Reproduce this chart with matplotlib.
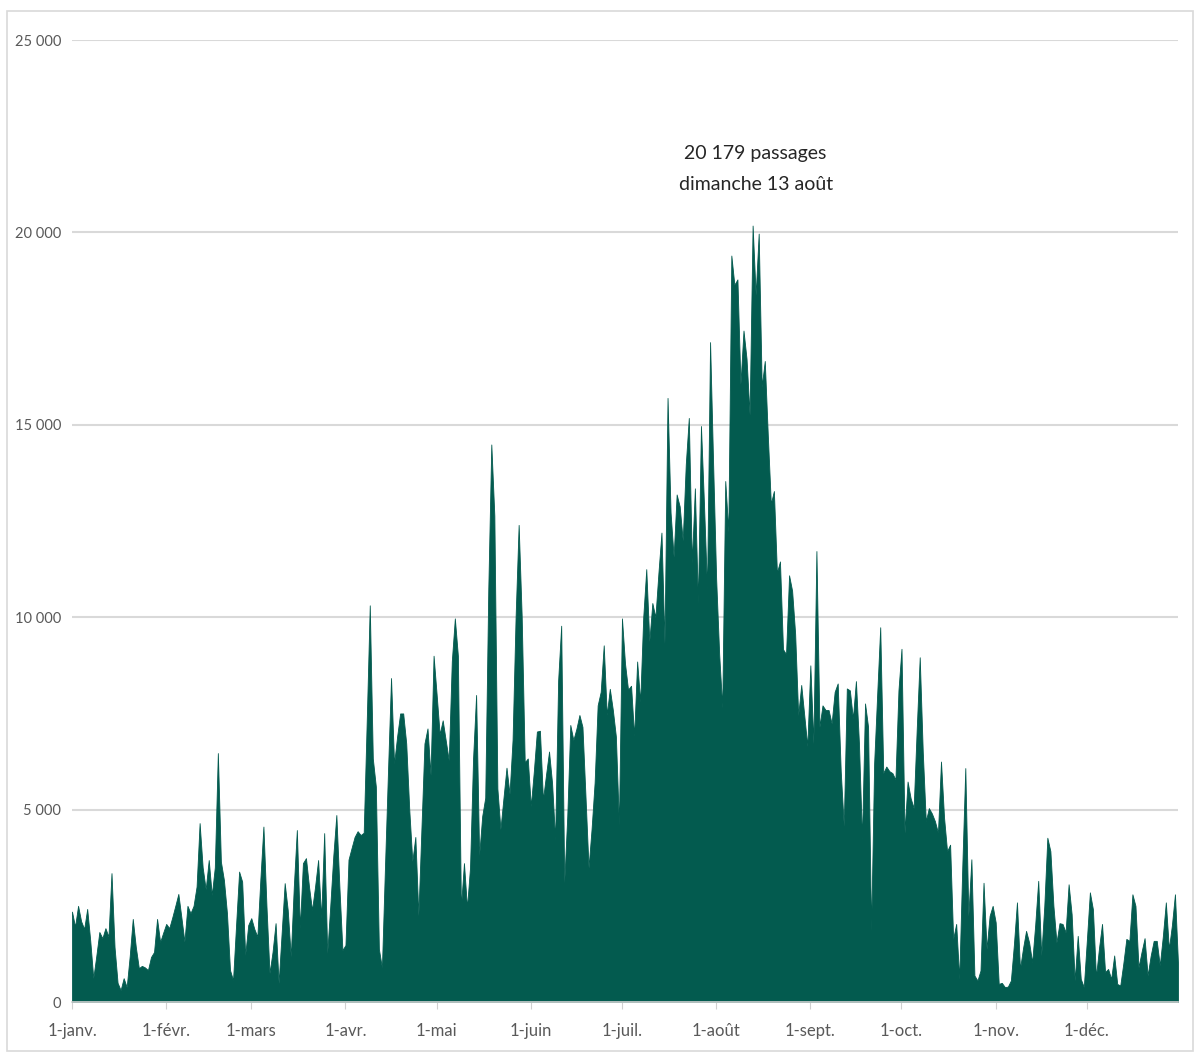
import numpy as np
import matplotlib
matplotlib.use('Agg')
import matplotlib.pyplot as plt
from matplotlib.patches import Rectangle

plt.rcParams['font.family'] = ['Lato', 'DejaVu Sans']

# passages journaliers 2023, mois par mois
janv = [2350, 1960, 2500, 2100, 1900, 2420, 1600, 620, 1200, 1820, 1660, 1920, 1700, 3350, 1430, 500,
        310, 620, 390, 1200, 2160, 1430, 880, 940, 900, 830, 1170, 1300, 2160, 1560, 1800]
fevr = [2030, 1920, 2200, 2500, 2810, 2200, 1570, 2500, 2310, 2500, 3000, 4650, 3500, 2930, 3690, 2780,
        3500, 6470, 3650, 3170, 2310, 830, 570, 2000, 3390, 3130, 1220, 2000]
mars = [2180, 1900, 1700, 3200, 4560, 2500, 750, 1300, 2050, 490, 1800, 3090, 2390, 1180, 3000, 4470,
        1920, 3610, 3740, 3000, 2390, 3000, 3690, 2180, 4390, 1270, 2500, 3800, 4860, 3000, 1350]
avr = [1480, 3700, 4000, 4290, 4440, 4340, 4400, 7300, 10310, 6330, 5600, 1380, 890, 3500, 6000, 8420,
       6190, 6900, 7500, 7500, 6720, 5000, 3660, 4290, 2250, 4500, 6720, 7110, 5900, 9000]
mai = [8000, 6960, 7320, 6800, 6280, 8860, 9970, 9000, 2450, 3610, 2450, 3500, 6330, 7980, 3810, 4830,
       5310, 10700, 14490, 12640, 5550, 4490, 5300, 6090, 5410, 6820, 10020, 12400, 10020, 6230, 6330]
juin = [5090, 6000, 7030, 7050, 5260, 5900, 6510, 5690, 4220, 8360, 9780, 3100, 4830, 7200, 6810, 7100,
        7460, 7150, 5340, 3490, 4500, 5700, 7710, 8060, 9270, 7460, 8140, 7590, 6900, 4600]
juil = [9970, 8800, 8120, 8220, 6910, 8850, 7800, 10000, 11250, 9370, 10370, 10000, 11150, 12200, 9320,
        15700, 12720, 11570, 13190, 12880, 11990, 13970, 15180, 11410, 13350, 10370, 14970, 12930, 10730,
        17150, 14000]
aout = [11000, 9040, 7650, 13540, 12220, 19400, 18640, 18780, 16060, 17450, 16720, 15260, 20179, 18380,
        19970, 15990, 16660, 14730, 12950, 13280, 11160, 11450, 9170, 9040, 11090, 10690, 9570, 7450,
        8240, 7450, 6650]
sept = [8750, 6720, 11720, 7150, 7710, 7590, 7590, 7240, 8060, 8280, 6000, 4570, 8150, 8100, 7370, 8340,
        6720, 4220, 7760, 7150, 1850, 6210, 8000, 9740, 5950, 6120, 6000, 5950, 5780, 8100]
octo = [9180, 4400, 5730, 5300, 5040, 7070, 8960, 6500, 4700, 5040, 4900, 4700, 4400, 6250, 4800, 3920,
        4090, 1640, 2030, 600, 3500, 6080, 2240, 3710, 690, 560, 820, 3100, 1380, 2240, 2500]
nov = [2070, 470, 500, 390, 400, 560, 1500, 2590, 860, 1400, 1850, 1550, 1030, 2000, 3150, 1210, 2500,
       4270, 3920, 2500, 1550, 2050, 2030, 1810, 3060, 2280, 560, 1720, 600, 390]
dec = [1600, 2850, 2410, 650, 1400, 2030, 780, 860, 600, 1210, 470, 430, 1000, 1640, 1590, 2800, 2500,
       900, 1300, 1660, 690, 1200, 1590, 1590, 950, 1700, 2590, 1380, 2000, 2800, 1000]

mois_labels = ['1-janv.', '1-févr.', '1-mars', '1-avr.', '1-mai', '1-juin',
               '1-juil.', '1-août', '1-sept.', '1-oct.', '1-nov.', '1-déc.']
y_ticks = [0, 5000, 10000, 15000, 20000, 25000]
y_labels = ['0', '5 000', '10 000', '15 000', '20 000', '25 000']

valeurs = np.array(janv + fevr + mars + avr + mai + juin + juil + aout + sept + octo + nov + dec)
dates = np.arange('2023-01-01', '2024-01-01', dtype='datetime64[D]')
debuts_mois = np.arange('2023-01', '2024-01', dtype='datetime64[M]').astype('datetime64[D]')

VERT = '#035B4F'
GRIS_TEXTE = '#595959'

fig = plt.figure(figsize=(11.98, 10.54), dpi=100)
fig.patches.append(Rectangle((0.006, 0.003), 0.99, 0.987, transform=fig.transFigure,
                             fill=False, edgecolor='#D9D9D9', linewidth=1.2))
ax = fig.add_axes([0.0601, 0.0493, 0.9232, 0.9127])

ax.fill_between(dates, valeurs, 0, color=VERT, linewidth=0.6, edgecolor=VERT)

ax.set_xlim(dates[0], dates[-1])
ax.set_ylim(0, 25000)

ax.set_yticks(y_ticks)
ax.set_yticklabels(y_labels)
ax.set_xticks(debuts_mois)
ax.set_xticklabels(mois_labels)

ax.grid(axis='y', color='#D9D9D9', linewidth=1.5)
ax.set_axisbelow(True)
for s in ['top', 'right', 'left']:
    ax.spines[s].set_visible(False)
ax.spines['bottom'].set_color('#D0D0D0')
ax.spines['bottom'].set_linewidth(1.2)

ax.tick_params(axis='y', length=0, pad=8, labelsize=10.5, labelcolor=GRIS_TEXTE)
ax.tick_params(axis='x', length=5, color='#D0D0D0', pad=10, labelsize=12, labelcolor=GRIS_TEXTE)

idx_max = int(np.argmax(valeurs))
ax.text(dates[idx_max] + np.timedelta64(1, 'D'), 21660,
        f"{valeurs[idx_max]:,}".replace(',', ' ') + ' passages\ndimanche 13 août',
        ha='center', va='center', fontsize=14, color='#262626', linespacing=2.0)

fig.savefig('out.png', dpi=100)
